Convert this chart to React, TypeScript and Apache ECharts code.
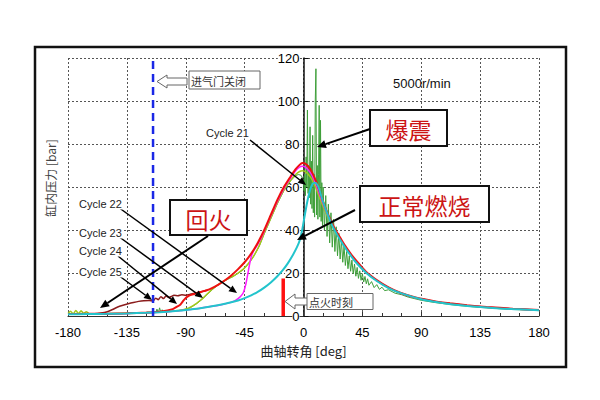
import { useEffect, useRef } from "react";
import * as echarts from "echarts";

// Crank angle [deg] / cylinder pressure [bar] traces, one list per cycle
const cycle21Knock: [number, number][] = [
  [-180, 0.9], [-160, 1.0], [-140, 1.2], [-125, 1.4], [-116, 1.6], [-113, 1.6], [-112, 3.2], [-111, 1.4],
  [-110, 3.8], [-109, 1.5], [-108, 2.9], [-107, 1.6], [-106, 2.6], [-105, 1.7], [-104, 2.2], [-100, 2.2],
  [-92, 2.8], [-88, 3.5], [-85, 4.4], [-82, 5.6], [-79, 7.0], [-76, 8.6], [-73, 10.4], [-70, 12.1],
  [-66, 14.1], [-62, 15.7], [-58, 17.1], [-54, 18.3], [-50, 19.8], [-46, 21.6], [-42, 24.3], [-38, 27.8],
  [-34, 32.3], [-30, 38.3], [-25, 45.3], [-20, 52.3], [-15, 58.3], [-10, 62.8], [-6, 65.3], [-4, 65.8],
  [-2, 65.5], [-1, 64.5], [0, 63], [0.5, 58], [1, 66], [1.5, 56], [2, 74], [2.5, 60], [3, 95.8], [3.5, 57],
  [4, 70], [4.5, 55], [5, 88], [5.5, 52], [6, 72], [6.5, 50], [7, 84], [7.5, 48], [8, 66], [8.5, 46],
  [9, 100], [9.5, 115], [10, 47], [10.5, 70], [11, 45], [11.5, 66], [12, 98], [12.5, 46], [13, 91],
  [13.5, 44], [14, 62], [14.5, 42], [15, 60], [16, 40], [17, 56], [18, 37], [19, 52], [20, 34], [21, 48],
  [22, 32], [23, 45], [24, 30], [25, 41.5], [26, 28], [27, 38.5], [28, 26.5], [29, 35.5], [30, 25],
  [31, 32.5], [32, 23.5], [33, 30], [34, 22], [35, 28], [36, 20.8], [37, 26], [38, 19.6], [39, 24.2],
  [40, 18.5], [41, 22.6], [42, 17.5], [43, 21], [44, 16.6], [45, 19.7], [46, 15.8], [47, 18.4], [48, 15],
  [49, 17.3], [50, 14.3], [52, 16], [54, 13.2], [56, 14.6], [58, 12.4], [60, 13.4], [62, 11.8], [65, 12.2],
  [70, 10.6], [75, 9.9], [80, 8.8], [90, 7.3], [100, 6.3], [110, 5.5], [120, 4.8], [135, 4.0], [150, 3.4],
  [165, 2.9], [180, 2.5],
];

const cycle22: [number, number][] = [
  [-180, 0.8], [-165, 0.9], [-150, 1.0], [-135, 1.2], [-120, 1.5], [-110, 1.8], [-100, 2.2], [-90, 2.8],
  [-80, 3.5], [-70, 4.5], [-62, 5.4], [-57, 6.1], [-54, 6.7], [-52, 7.3], [-50, 8.1], [-48, 9.2], [-46, 10.8],
  [-44, 15.0], [-42, 21.5], [-40, 27.5], [-38, 30.4], [-36, 32.3], [-33, 35.5], [-30, 39.5], [-25, 46.5],
  [-20, 53.3], [-15, 59.3], [-10, 64.0], [-6, 67.5], [-3, 69.2], [-1, 69.6], [1, 69.4], [3, 68.4], [6, 66.0],
  [9, 62.0], [12, 57.0], [16, 50.5], [20, 45.0], [24, 40.0], [28, 36.2], [32, 32.3], [36, 28.8], [40, 25.8],
  [48, 20.3], [56, 16.6], [65, 13.2], [74, 10.7], [85, 8.6], [100, 6.8], [112, 5.8], [125, 4.9], [140, 4.1],
  [160, 3.3], [180, 2.7],
];

const cycle23: [number, number][] = [
  [-180, 1.2], [-178, 2.2], [-176, 1.0], [-174, 2.6], [-172, 1.1], [-170, 2.4], [-168, 1.2], [-166, 2.0],
  [-164, 1.1], [-160, 1.0], [-150, 1.1], [-140, 1.2], [-130, 1.4], [-120, 1.6], [-110, 1.9], [-100, 2.3],
  [-92, 2.9], [-88, 3.6], [-85, 4.6], [-82, 5.8], [-79, 7.2], [-76, 8.8], [-73, 10.6], [-70, 12.3],
  [-66, 14.3], [-62, 15.9], [-58, 17.3], [-54, 18.5], [-50, 20.0], [-46, 21.8], [-42, 24.5], [-38, 28.0],
  [-34, 32.5], [-30, 38.5], [-25, 45.5], [-20, 52.5], [-15, 58.5], [-10, 63.0], [-6, 65.8], [-3, 67.2],
  [-1, 67.6], [1, 67.3], [3, 66.3], [6, 64.0], [9, 60.3], [12, 55.5], [16, 49.5], [20, 44.5], [24, 40.0],
  [28, 36.0], [32, 32.0], [36, 28.5], [40, 25.5], [48, 20.2], [56, 16.5], [65, 13.1], [74, 10.7], [85, 8.6],
  [100, 6.8], [112, 5.8], [125, 4.9], [140, 4.1], [160, 3.3], [180, 2.7],
];

const cycle24: [number, number][] = [
  [-180, 0.9], [-165, 1.0], [-150, 1.1], [-135, 1.3], [-120, 1.6], [-110, 2.0], [-104, 2.6], [-100, 3.2],
  [-97, 4.2], [-94, 5.4], [-92, 7.0], [-90, 8.4], [-88, 9.3], [-85, 10.0], [-82, 10.6], [-78, 11.3],
  [-74, 12.0], [-70, 13.0], [-65, 14.6], [-60, 16.6], [-55, 19.0], [-50, 21.8], [-45, 25.0], [-40, 29.0],
  [-35, 34.0], [-30, 40.0], [-25, 47.0], [-20, 54.0], [-15, 60.0], [-10, 64.8], [-6, 68.3], [-3, 70.3],
  [-1, 71.2], [1, 71.0], [3, 70.0], [6, 67.5], [9, 63.5], [12, 58.5], [16, 51.5], [20, 45.5], [24, 40.5],
  [28, 36.5], [32, 32.5], [36, 29.0], [40, 26.0], [48, 20.5], [56, 16.7], [65, 13.3], [74, 10.8], [85, 8.7],
  [100, 6.9], [112, 5.9], [125, 5.0], [140, 4.2], [160, 3.4], [180, 2.8],
];

const cycle25: [number, number][] = [
  [-180, 0.9], [-170, 1.0], [-160, 1.1], [-155, 1.4], [-150, 2.0], [-146, 3.0], [-142, 4.2], [-138, 5.0],
  [-134, 5.7], [-130, 6.3], [-126, 6.8], [-122, 7.1], [-118, 7.2], [-115, 7.0], [-113, 8.3], [-111, 7.6],
  [-109, 9.0], [-107, 8.1], [-105, 9.4], [-103, 8.6], [-101, 9.1], [-99, 9.6], [-96, 9.4], [-93, 9.9],
  [-90, 9.7], [-86, 10.2], [-82, 10.7], [-78, 11.3], [-74, 12.0],
];

const normalCombustion: [number, number][] = [
  [-180, 0.8], [-165, 0.9], [-150, 1.0], [-135, 1.2], [-120, 1.5], [-110, 1.8], [-100, 2.2], [-90, 2.8],
  [-80, 3.5], [-70, 4.5], [-60, 5.7], [-50, 7.2], [-45, 8.3], [-40, 9.6], [-35, 11.2], [-30, 13.2],
  [-25, 15.6], [-20, 18.5], [-16, 21.2], [-12, 24.5], [-8, 28.5], [-5, 32], [-3, 35], [-1, 40], [1, 47],
  [3, 53.5], [5, 58.5], [7, 61.5], [9, 62], [11, 60.5], [13, 57], [15, 53], [18, 48], [22, 42], [26, 37.5],
  [30, 33.5], [35, 29], [40, 25], [48, 20], [56, 16.3], [65, 13], [75, 10.5], [90, 7.8], [105, 6.2],
  [120, 5], [135, 4.2], [150, 3.5], [165, 3.1], [180, 2.7],
];

// Event markers
const intakeCloseDeg = -115;
const ignitionDeg = -15.5;
const ignitionBar = 17.5;

// Axis scales
const xMin = -180;
const xMax = 180;
const xStep = 45;
const yMin = 0;
const yMax = 120;
const yStep = 20;

// Plot area
const GRID = { left: 68, right: 61, top: 58, bottom: 84 };
const CHART_W = 600;
const PLOT_W = CHART_W - GRID.left - GRID.right;
// pressure axis sits at 0 deg, i.e. the middle of the symmetric angle range
const yAxisShift = -(PLOT_W * (0 - xMin)) / (xMax - xMin);

const CJK = '"Noto Sans CJK SC", "Noto Sans", sans-serif';
const LATIN = '"Liberation Sans", Arial, sans-serif';

function arrow(x1: number, y1: number, x2: number, y2: number, width = 2, head = 9, half = 4) {
  const a = Math.atan2(y2 - y1, x2 - x1);
  const bx = x2 - head * Math.cos(a);
  const by = y2 - head * Math.sin(a);
  const px = -Math.sin(a) * half;
  const py = Math.cos(a) * half;
  return [
    { type: "line", z: 110, silent: true, shape: { x1, y1, x2: bx, y2: by }, style: { stroke: "#000", lineWidth: width } },
    {
      type: "polygon", z: 110, silent: true,
      shape: { points: [[x2, y2], [bx + px, by + py], [bx - px, by - py]] },
      style: { fill: "#000" },
    },
  ];
}

// hollow block arrow pointing left
function blockArrowLeft(tipX: number, cy: number, tailX: number, headLen: number, headHalf: number, shaftHalf: number) {
  const hx = tipX + headLen;
  return {
    type: "polygon", z: 110, silent: true,
    shape: {
      points: [
        [tipX, cy], [hx, cy - headHalf], [hx, cy - shaftHalf], [tailX, cy - shaftHalf],
        [tailX, cy + shaftHalf], [hx, cy + shaftHalf], [hx, cy + headHalf],
      ],
    },
    style: { fill: "#fff", stroke: "#666", lineWidth: 1 },
  };
}

function labelBox(x: number, y: number, w: number, h: number, text: string) {
  return [
    { type: "rect", z: 110, silent: true, shape: { x, y, width: w, height: h }, style: { fill: "#fff", stroke: "#111", lineWidth: 2 } },
    {
      type: "text", z: 111, silent: true, x: x + w / 2, y: y + h / 2 + 1,
      style: { text, fill: "#cc1414", font: `23px ${CJK}`, textAlign: "center", textVerticalAlign: "middle" },
    },
  ];
}

function smallText(x: number, y: number, text: string, size = 11, font = LATIN) {
  return {
    type: "text", z: 111, silent: true, x, y,
    style: {
      text, fill: "#222", font: `${size}px ${font}`, textAlign: "left", textVerticalAlign: "middle",
      backgroundColor: "#fff", padding: [0, 1],
    },
  };
}

function traceSeries(name: string, data: [number, number][], color: string, width: number, smooth: number | boolean) {
  return {
    name, type: "line", data, showSymbol: false, symbol: "none", smooth, silent: true,
    lineStyle: { color, width }, emphasis: { disabled: true },
  };
}

export default function App() {
  const ref = useRef<HTMLDivElement>(null);

  useEffect(() => {
    if (!ref.current) return;
    const chart = echarts.init(ref.current, null, { renderer: "svg" });

    const graphic: any[] = [
      { type: "rect", z: 100, silent: true, shape: { x: 35, y: 47, width: 531, height: 320 }, style: { fill: "none", stroke: "#111", lineWidth: 2.5 } },
      {
        type: "text", z: 111, silent: true, x: 50, y: 178, rotation: Math.PI / 2,
        style: { text: "缸内压力 [bar]", fill: "#444", font: `12px ${CJK}`, textAlign: "center", textVerticalAlign: "middle" },
      },
      // intake valve closing note
      blockArrowLeft(157, 81.5, 187, 10, 6.5, 3.5),
      { type: "rect", z: 110, silent: true, shape: { x: 189, y: 71, width: 71, height: 18 }, style: { fill: "#fff", stroke: "#666", lineWidth: 1 } },
      { type: "text", z: 111, silent: true, x: 191, y: 80.5, style: { text: "进气门关闭", fill: "#333", font: `11px ${CJK}`, textVerticalAlign: "middle" } },
      // ignition timing note
      blockArrowLeft(285, 301.5, 308, 10, 7.5, 3.5),
      { type: "rect", z: 110, silent: true, shape: { x: 307, y: 293.5, width: 66, height: 16 }, style: { fill: "#fff", stroke: "#666", lineWidth: 1 } },
      { type: "text", z: 111, silent: true, x: 309, y: 302, style: { text: "点火时刻", fill: "#333", font: `11px ${CJK}`, textVerticalAlign: "middle" } },
      // engine speed
      { type: "text", z: 111, silent: true, x: 393, y: 83, style: { text: "5000r/min", fill: "#111", font: `13px ${LATIN}`, textVerticalAlign: "middle" } },
      // phenomenon boxes
      ...labelBox(370, 110, 77, 36, "爆震"),
      ...labelBox(360, 186, 129, 36, "正常燃烧"),
      ...labelBox(170, 200, 77, 35, "回火"),
      ...arrow(370, 129, 317, 147),
      ...arrow(355, 210, 297, 240),
      ...arrow(208, 236, 100, 308),
      // cycle labels
      smallText(205, 133, "Cycle 21"),
      smallText(78, 204, "Cycle 22"),
      smallText(78, 233, "Cycle 23"),
      smallText(78, 251, "Cycle 24"),
      smallText(78, 272, "Cycle 25"),
      ...arrow(250, 140, 306, 185, 1.5, 8, 3.5),
      ...arrow(118, 207, 237, 293, 1.5, 8, 3.5),
      ...arrow(118, 236, 203, 298, 1.5, 8, 3.5),
      ...arrow(118, 256, 177, 304, 1.5, 8, 3.5),
      ...arrow(118, 275, 152, 300, 1.5, 8, 3.5),
    ];

    chart.setOption({
      animation: false,
      backgroundColor: "#fff",
      grid: GRID,
      xAxis: {
        type: "value", min: xMin, max: xMax, interval: xStep,
        name: "曲轴转角 [deg]", nameLocation: "middle", nameGap: 28,
        nameTextStyle: { color: "#222", fontSize: 13, fontFamily: CJK },
        axisLine: { show: true, onZero: false, lineStyle: { color: "#333", width: 1.2 } },
        axisTick: { show: true, inside: true, length: 4, lineStyle: { color: "#333" } },
        minorTick: { show: true, splitNumber: 3, length: 3, lineStyle: { color: "#333" } },
        axisLabel: { color: "#000", fontSize: 13, fontFamily: LATIN, margin: 10 },
        splitLine: { show: true, lineStyle: { color: "#555", type: [2, 2], width: 1 } },
      },
      yAxis: {
        type: "value", min: yMin, max: yMax, interval: yStep,
        position: "left", offset: yAxisShift,
        axisLine: { show: true, onZero: false, lineStyle: { color: "#111", width: 1.5 } },
        axisTick: { show: true, inside: true, length: 5, lineStyle: { color: "#111" } },
        axisLabel: { color: "#000", fontSize: 13, fontFamily: LATIN, margin: 4, backgroundColor: "#fff" },
        splitLine: { show: true, lineStyle: { color: "#555", type: [2, 2], width: 1 } },
      },
      series: [
        traceSeries("Cycle 21", cycle21Knock, "#3f9f3a", 1, false),
        traceSeries("Cycle 25", cycle25, "#8b1c1c", 1.5, 0.2),
        traceSeries("Cycle 23", cycle23, "#a2c81a", 1.5, 0.2),
        traceSeries("Cycle 22", cycle22, "#ff1aff", 1.5, 0.2),
        traceSeries("Cycle 24", cycle24, "#ee1111", 2, 0.2),
        traceSeries("正常燃烧", normalCombustion, "#22c4cc", 2, 0.2),
        {
          name: "进气门关闭", type: "line", silent: true, showSymbol: false, symbol: "none",
          data: [[intakeCloseDeg, yMin], [intakeCloseDeg, yMax]],
          lineStyle: { color: "#1a28e6", width: 2.5, type: [8, 5] },
        },
        {
          name: "点火时刻", type: "line", silent: true, showSymbol: false, symbol: "none",
          data: [[ignitionDeg, yMin], [ignitionDeg, ignitionBar]],
          lineStyle: { color: "#ff1010", width: 3.5 },
        },
      ],
      graphic,
    });

    return () => chart.dispose();
  }, []);

  // pinned to the page corner so chart pixels line up with the window
  return <div ref={ref} style={{ position: "absolute", left: 0, top: 0, width: 600, height: 400 }} />;
}
